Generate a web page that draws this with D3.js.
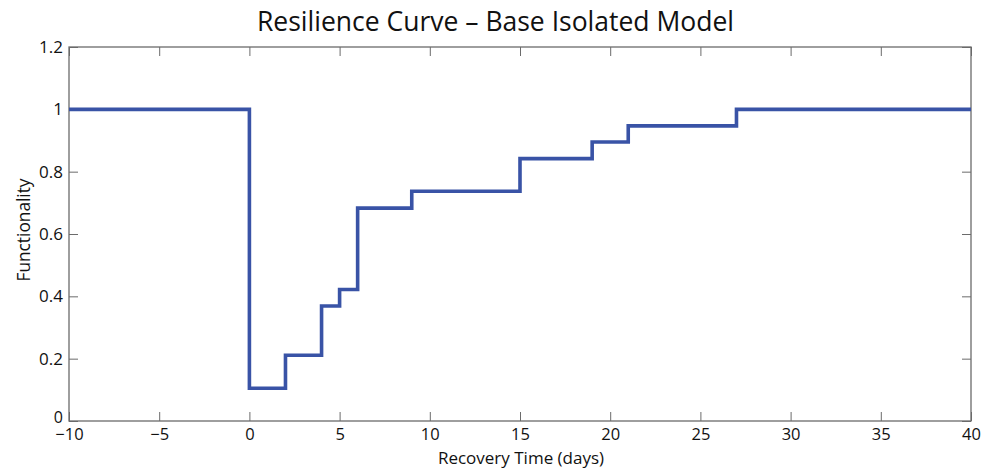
<!DOCTYPE html>
<html><head><meta charset="utf-8">
<script src="https://cdn.jsdelivr.net/npm/d3@7"></script>
<style>body{margin:0;background:#fff}svg{display:block}text{font-family:"Open Sans","Noto Sans",sans-serif;fill:#111}</style>
</head><body><svg id="c" width="982" height="468"></svg>
<script>
const stepX = [-10, 0, 0, 2, 4, 5, 6, 9, 15, 19, 21, 27, 40];
const stepY = [1, 1, 0.105, 0.211, 0.369, 0.422, 0.683, 0.737, 0.842, 0.895, 0.947, 1, 1];
const xTicks = [-10, -5, 0, 5, 10, 15, 20, 25, 30, 35, 40];
const yTicks = [0, 0.2, 0.4, 0.6, 0.8, 1, 1.2];
const title = "Resilience Curve \u2013 Base Isolated Model";
const xLabel = "Recovery Time (days)";
const yLabel = "Functionality";

const svg = d3.select("#c");
const L = 69, R = 971, T = 47, B = 421;
const x = d3.scaleLinear().domain([-10, 40]).range([L, R]);
const y = d3.scaleLinear().domain([0, 1.2]).range([B, T]);
const fmt = d => (d < 0 ? "\u2212" + Math.abs(d) : String(d));
const axisCol = "#6b6b6b";

function style(g) {
  g.select(".domain").remove();
  g.selectAll(".tick line").attr("stroke", axisCol).attr("stroke-width", 1);
}
// bottom
svg.append("g").attr("transform", `translate(0,${B})`)
  .call(d3.axisBottom(x).tickValues(xTicks).tickSizeInner(-9).tickSizeOuter(0).tickPadding(7.5).tickFormat(fmt))
  .call(style).call(g => g.selectAll("text").attr("font-size", 16.5).attr("font-family", "'Open Sans',sans-serif").attr("fill", "#111"));
// top
svg.append("g").attr("transform", `translate(0,${T})`)
  .call(d3.axisTop(x).tickValues(xTicks).tickSizeInner(-9).tickSizeOuter(0).tickFormat(""))
  .call(style);
// left
svg.append("g").attr("transform", `translate(${L},0)`)
  .call(d3.axisLeft(y).tickValues(yTicks).tickSizeInner(-9).tickSizeOuter(0).tickPadding(6).tickFormat(d => String(+d.toFixed(1))))
  .call(style).call(g => g.selectAll("text").attr("font-size", 17).attr("font-family", "'Open Sans',sans-serif").attr("fill", "#111"))
  .call(g => g.selectAll(".tick").filter(d => d === 0).select("text").attr("dy", "0.1em").attr("font-size", 16));
// right
svg.append("g").attr("transform", `translate(${R},0)`)
  .call(d3.axisRight(y).tickValues(yTicks).tickSizeInner(-9).tickSizeOuter(0).tickFormat(""))
  .call(style);
// box
svg.append("rect").attr("x", L).attr("y", T).attr("width", R - L).attr("height", B - T)
  .attr("fill", "none").attr("stroke", axisCol).attr("stroke-width", 1.3);

// line
const pts = stepX.map((d, i) => [d, stepY[i]]);
const line = d3.line().x(d => x(d[0])).y(d => y(d[1])).curve(d3.curveStepAfter);
svg.append("path").datum(pts).attr("d", line)
  .attr("fill", "none").attr("stroke", "#3953a6").attr("stroke-width", 3.6).attr("stroke-linejoin", "miter");

svg.append("text").attr("x", 495.5).attr("y", 31).attr("text-anchor", "middle").attr("font-size", 26.5).text(title);
svg.append("text").attr("x", 521).attr("y", 463.5).attr("text-anchor", "middle").attr("font-size", 17).text(xLabel);
svg.append("text").attr("transform", `translate(29.5,230) rotate(-90)`).attr("text-anchor", "middle").attr("font-size", 17.3).text(yLabel);
</script></body></html>
